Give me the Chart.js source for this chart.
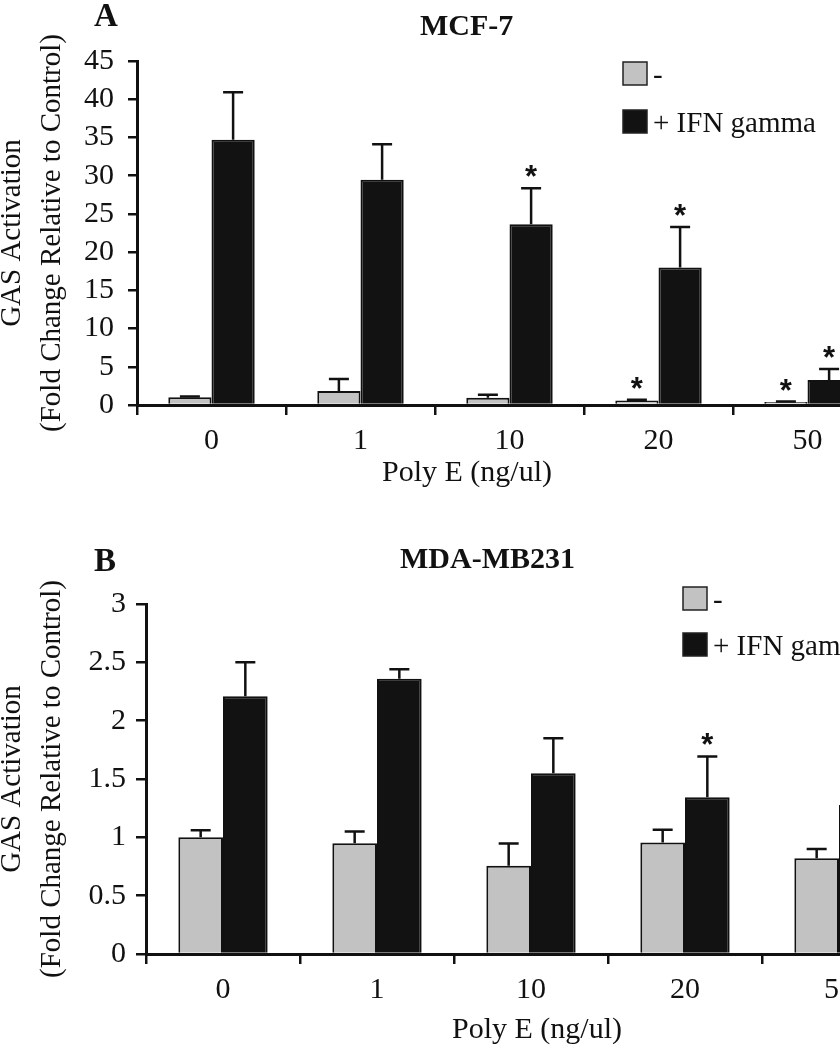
<!DOCTYPE html>
<html>
<head>
<meta charset="utf-8">
<script src="https://cdn.jsdelivr.net/npm/chart.js@4/dist/chart.umd.min.js"></script>
<style>
  html, body { margin: 0; padding: 0; background: #fff; width: 840px; height: 1050px; overflow: hidden; }
  canvas { display: block; }
</style>
</head>
<body>
<canvas id="chart-a" width="940" height="515"></canvas>
<canvas id="chart-b" width="940" height="535"></canvas>
<script>
const doses = ['0', '1', '10', '20', '50']
const seriesNames = ['-', '+ IFN gamma']

// panel A, MCF-7
const mcfControl = [1.0, 1.83, 0.95, 0.6, 0.4]
const mcfControlErr = [0.1, 1.57, 0.4, 0.1, 0.05]
const mcfIfn = [34.7, 29.45, 23.65, 18.0, 3.27]
const mcfIfnErr = [6.2, 4.65, 4.7, 5.3, 1.45]
const mcfControlStar = [false, false, false, true, true]
const mcfIfnStar = [false, false, true, true, true]
const mcfTicks = [0, 5, 10, 15, 20, 25, 30, 35, 40, 45]
const mcfTickLabels = ['0', '5', '10', '15', '20', '25', '30', '35', '40', '45']

// panel B, MDA-MB231
const mdaControl = [1.0, 0.95, 0.757, 0.955, 0.82]
const mdaControlErr = [0.06, 0.1, 0.19, 0.11, 0.08]
const mdaIfn = [2.21, 2.36, 1.55, 1.343, 1.277]
const mdaIfnErr = [0.29, 0.08, 0.3, 0.35, 0.3]
const mdaControlStar = [false, false, false, false, false]
const mdaIfnStar = [false, false, false, true, false]
const mdaTicks = [0, 0.5, 1, 1.5, 2, 2.5, 3]
const mdaTickLabels = ['0', '0.5', '1', '1.5', '2', '2.5', '3']

const SERIF = '"Liberation Serif", "Times New Roman", serif'
const INK = '#111'

const errorBars = {
  id: 'errorBars',
  afterDatasetsDraw(chart) {
    const { ctx, scales: { y } } = chart
    ctx.save()
    chart.data.datasets.forEach((ds, i) => {
      chart.getDatasetMeta(i).data.forEach((bar, j) => {
        const top = y.getPixelForValue(ds.data[j] + ds.errors[j])
        ctx.strokeStyle = INK
        ctx.lineWidth = 2.5
        ctx.beginPath()
        ctx.moveTo(bar.x, bar.y)
        ctx.lineTo(bar.x, top)
        ctx.moveTo(bar.x - 10, top)
        ctx.lineTo(bar.x + 10, top)
        ctx.stroke()
        if (ds.stars[j]) {
          ctx.font = 'bold 31px "Liberation Sans", Arial, sans-serif'
          ctx.fillStyle = INK
          ctx.textAlign = 'center'
          ctx.textBaseline = 'alphabetic'
          const m = ctx.measureText('*')
          const cy = top - 17
          ctx.fillText('*', bar.x, cy + (m.actualBoundingBoxAscent - m.actualBoundingBoxDescent) / 2)
        }
      })
    })
    ctx.restore()
  }
}

const figureText = {
  id: 'figureText',
  afterDraw(chart, args, opts) {
    const { ctx } = chart
    ctx.save()
    ctx.fillStyle = INK
    ctx.textAlign = 'left'
    ctx.textBaseline = 'alphabetic'
    ctx.font = 'bold 33px ' + SERIF
    ctx.fillText(opts.letter, opts.letterX, opts.letterY)
    ctx.font = 'bold 30px ' + SERIF
    ctx.fillText(opts.title, opts.titleX, opts.titleY)
    ctx.font = '30px ' + SERIF
    ctx.fillText(opts.xTitle, opts.xTitleX, opts.xTitleY)

    chart.data.datasets.forEach((ds, i) => {
      const y = opts.legendY + i * opts.legendGap
      ctx.fillStyle = ds.backgroundColor
      ctx.fillRect(opts.legendX, y, 24, 23)
      ctx.strokeStyle = '#222'
      ctx.lineWidth = 1.5
      ctx.strokeRect(opts.legendX, y, 24, 23)
      ctx.fillStyle = INK
      ctx.font = '29px ' + SERIF
      ctx.fillText(ds.label, opts.legendX + 30, y + 22)
    })
    ctx.restore()
  }
}

function makePanel (id, p) {
  const ctx = document.getElementById(id).getContext('2d')
  return new Chart(ctx, {
    type: 'bar',
    data: {
      labels: doses,
      datasets: [
        {
          label: seriesNames[0],
          data: p.control,
          errors: p.controlErr,
          stars: p.controlStar,
          backgroundColor: '#c2c2c2',
          borderColor: INK,
          borderWidth: 2,
          barPercentage: 1,
          categoryPercentage: 0.58
        },
        {
          label: seriesNames[1],
          data: p.ifn,
          errors: p.ifnErr,
          stars: p.ifnStar,
          backgroundColor: '#121212',
          borderColor: INK,
          borderWidth: 2,
          barPercentage: 1,
          categoryPercentage: 0.58
        }
      ]
    },
    options: {
      responsive: false,
      animation: false,
      events: [],
      layout: { padding: p.padding },
      plugins: {
        legend: { display: false },
        tooltip: { enabled: false },
        figureText: p.text
      },
      scales: {
        x: {
          afterFit: s => { s.height = p.xHeight },
          grid: { drawOnChartArea: false, drawTicks: true, tickLength: 10, color: INK, lineWidth: 2.5 },
          border: { color: INK, width: 3 },
          ticks: { color: INK, padding: 8, autoSkip: false, maxRotation: 0, font: { family: SERIF, size: 30 } }
        },
        y: {
          min: p.ticks[0],
          max: p.ticks[p.ticks.length - 1],
          afterFit: s => { s.width = p.yWidth },
          afterBuildTicks: s => { s.ticks = p.ticks.map(v => ({ value: v })) },
          grid: { drawOnChartArea: false, drawTicks: true, tickLength: p.yTickLength, color: INK, lineWidth: 2.5 },
          border: { color: INK, width: 3 },
          ticks: {
            color: INK,
            padding: p.yPad,
            autoSkip: false,
            font: { family: SERIF, size: 30 },
            callback: (v, i) => p.tickLabels[i]
          },
          title: {
            display: true,
            text: ['GAS Activation', '(Fold Change Relative to Control)'],
            color: INK,
            font: { family: SERIF, size: 29, lineHeight: 1.38 },
            padding: { top: -8, bottom: 0 }
          }
        }
      }
    },
    plugins: [errorBars, figureText]
  })
}

makePanel('chart-a', {
  control: mcfControl, controlErr: mcfControlErr, controlStar: mcfControlStar,
  ifn: mcfIfn, ifnErr: mcfIfnErr, ifnStar: mcfIfnStar,
  ticks: mcfTicks, tickLabels: mcfTickLabels,
  padding: { top: 61, right: 58, left: 0, bottom: 0 },
  xHeight: 110, yWidth: 137, yTickLength: 9, yPad: 14,
  text: {
    letter: 'A', letterX: 94, letterY: 26,
    title: 'MCF-7', titleX: 420, titleY: 35,
    xTitle: 'Poly E (ng/ul)', xTitleX: 382, xTitleY: 481,
    legendX: 623, legendY: 62, legendGap: 48
  }
})

makePanel('chart-b', {
  control: mdaControl, controlErr: mdaControlErr, controlStar: mdaControlStar,
  ifn: mdaIfn, ifnErr: mdaIfnErr, ifnStar: mdaIfnStar,
  ticks: mdaTicks, tickLabels: mdaTickLabels,
  padding: { top: 89, right: 24, left: 0, bottom: 0 },
  xHeight: 96, yWidth: 146, yTickLength: 10, yPad: 10,
  text: {
    letter: 'B', letterX: 94, letterY: 56,
    title: 'MDA-MB231', titleX: 400, titleY: 53,
    xTitle: 'Poly E (ng/ul)', xTitleX: 452, xTitleY: 523,
    legendX: 683, legendY: 72, legendGap: 46
  }
})
</script>
</body>
</html>
